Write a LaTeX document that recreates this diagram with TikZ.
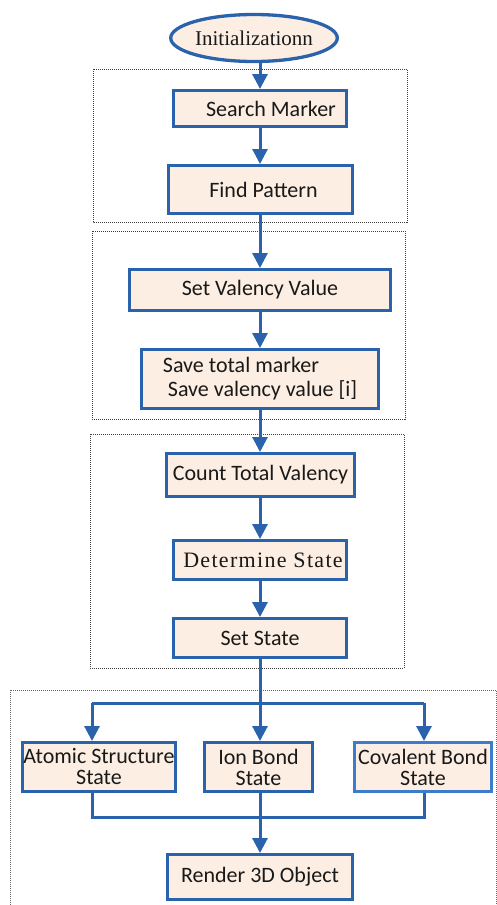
\documentclass[tikz,border=0pt]{standalone}
\usepackage{fontspec}
\setmainfont{Liberation Serif}
\newfontfamily\calfont{Carlito}
\usetikzlibrary{arrows.meta,shapes.geometric}
\definecolor{flowblue}{HTML}{2B62AC}
\definecolor{lightblue}{HTML}{3D7CCB}
\definecolor{boxfill}{HTML}{FCEEE3}
\tikzset{
  stepbox/.style={draw=flowblue, line width=3pt, fill=boxfill, inner sep=0pt,
    font=\calfont\fontsize{22}{21}\selectfont, text=black!90, align=center},
  startnode/.style={ellipse, draw=flowblue, line width=3.3pt, fill=boxfill, inner sep=0pt,
    font=\fontsize{21}{23}\selectfont, text=black!90},
  flow/.style={draw=flowblue, line width=3pt, -{Triangle[length=15pt,width=15pt]}},
  link/.style={draw=flowblue, line width=3pt},
  group/.style={draw=black!75, densely dotted, line width=1pt},
}
\begin{document}
\begin{tikzpicture}[x=1pt,y=-1pt]
\useasboundingbox (0,0) rectangle (497,905);

% dotted stage frames
\draw[group] (93,69) rectangle (407,222);
\draw[group] (92,231) rectangle (405,419);
\draw[group] (90,434) rectangle (404,668);
\begin{scope}
  \clip (0,0) rectangle (497,905);
  \draw[group, draw=black!60] (10,690) rectangle (496,920);
\end{scope}

% process nodes
\node[startnode, minimum width=153, minimum height=47] (init) at (254,38) {Initializationn};
\node[stepbox, minimum width=173, minimum height=36] (search) at (260,108.5) {\hspace*{22pt}Search Marker};
\node[stepbox, minimum width=184, minimum height=48] (find) at (260.5,189.5) {\hspace*{6pt}Find Pattern};
\node[stepbox, minimum width=261, minimum height=41] (setval) at (260,290) {Set Valency Value};
\node[stepbox, minimum width=237, minimum height=59, align=left,
  font=\calfont\fontsize{22}{24}\selectfont] (save) at (260,379)
  {Save total marker\\\hspace*{5pt}Save valency value [i]};
\node[stepbox, minimum width=188, minimum height=43] (count) at (260.5,475) {Count Total Valency};
\node[stepbox, minimum width=173, minimum height=39,
  font=\fontsize{22}{24}\selectfont\addfontfeature{LetterSpace=6}] (determine) at (260,560) {\hspace*{6pt}Determine State};
\node[stepbox, minimum width=173, minimum height=39] (setstate) at (260,638) {Set State};
\node[stepbox, minimum width=153, minimum height=49] (atomic) at (99,767) {Atomic Structure\\State};
\node[stepbox, minimum width=108, minimum height=49] (ion) at (258.5,767) {Ion Bond\\State};
\node[stepbox, draw=lightblue, minimum width=137, minimum height=49] (covalent) at (423,767) {Covalent Bond\\State};
\node[stepbox, minimum width=185, minimum height=45] (render) at (260,877) {Render 3D Object};

% branch points
\coordinate (forkL) at (92,703);
\coordinate (forkR) at (424,703);
\coordinate (joinL) at (92,817);
\coordinate (joinR) at (424,817);

% connectors
\draw[flow] (search.north |- init.south) -- (search.north);
\draw[flow] (search.south) -- (search.south |- find.north);
\draw[flow] (search.south |- find.south) -- (search.south |- setval.north);
\draw[flow] (setval.south) -- (save.north);
\draw[flow] (save.south) -- (save.south |- count.north);
\draw[flow] (save.south |- count.south) -- (determine.north);
\draw[flow] (determine.south) -- (setstate.north);
\draw[flow] (setstate.south) -- (setstate.south |- ion.north);
\draw[link] (forkL) -- (forkR);
\draw[flow] (forkL) -- (forkL |- atomic.north);
\draw[flow] (forkR) -- (forkR |- covalent.north);
\draw[link] (joinL |- atomic.south) -- (joinL) -- (joinR) -- (joinR |- covalent.south);
\draw[flow] (setstate.south |- ion.south) -- (render.north);
\end{tikzpicture}
\end{document}
